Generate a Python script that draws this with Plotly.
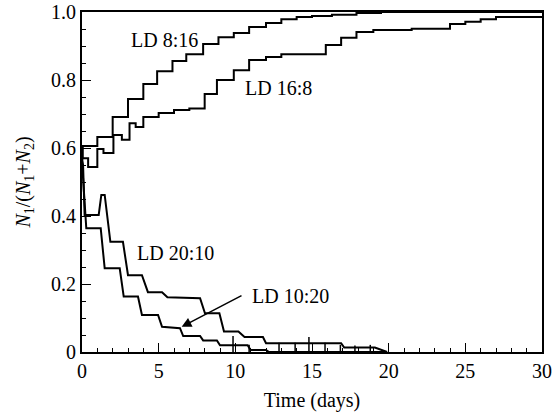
import plotly.graph_objects as go

# ---- data ----
ld816_x = [0, 0.05, 1.0, 2.0, 3.0, 4.0, 4.9, 5.9, 6.8, 7.9, 8.9, 9.9, 10.9, 12.0, 13.0, 14.0, 15.0, 16.3, 17.9, 19.5, 30]
ld816_y = [0.57, 0.606, 0.632, 0.691, 0.744, 0.788, 0.826, 0.856, 0.876, 0.906, 0.926, 0.938, 0.956, 0.968, 0.979, 0.985, 0.988, 0.992, 0.997, 1.0, 1.0]

ld168_x = [0, 0.4, 1.0, 1.4, 2.05, 2.6, 3.1, 3.5, 4.0, 5.0, 6.0, 7.0, 8.0, 8.8, 9.9, 10.9, 12.0, 13.0, 15.9, 16.9, 17.9, 19.0, 21.5, 24.0, 25.0, 26.0, 27.0, 30]
ld168_y = [0.57, 0.544, 0.597, 0.585, 0.638, 0.624, 0.673, 0.662, 0.691, 0.703, 0.712, 0.716, 0.759, 0.80, 0.829, 0.859, 0.868, 0.876, 0.903, 0.924, 0.941, 0.947, 0.951, 0.965, 0.971, 0.979, 0.985, 0.985]

ld2010_x = [0, 0.07, 0.17, 1.09, 1.26, 1.48, 1.85, 2.67, 3.0, 3.91, 4.3, 5.22, 5.57, 7.7, 8.02, 8.96, 9.26, 10.2, 10.6, 11.8, 12.0, 16.9, 17.1, 19.1, 19.9]
ld2010_y = [0.57, 0.55, 0.403, 0.403, 0.462, 0.462, 0.324, 0.324, 0.226, 0.226, 0.176, 0.176, 0.161, 0.158, 0.114, 0.114, 0.06, 0.06, 0.044, 0.044, 0.026, 0.026, 0.013, 0.013, 0.0]

ld1020_x = [0, 0.05, 0.28, 1.22, 1.48, 2.46, 2.72, 3.65, 3.91, 4.96, 5.22, 6.39, 6.6, 7.7, 7.9, 8.8, 9.0, 10.8, 11.0, 12.0, 12.2, 19.7]
ld1020_y = [0.56, 0.53, 0.364, 0.364, 0.246, 0.246, 0.163, 0.163, 0.109, 0.109, 0.074, 0.07, 0.047, 0.047, 0.034, 0.034, 0.02, 0.02, 0.006, 0.006, 0.0, 0.0]

spike_days = [9.85, 10.9, 12.85, 13.9, 14.8, 15.85, 16.85, 17.8, 18.8]
spike_tops = [0.047, 0.021, 0.027, 0.027, 0.044, 0.027, 0.021, 0.019, 0.021]

y_ticks = [0, 0.2, 0.4, 0.6, 0.8, 1.0]
y_ticktext = ["0", "0.2", "0.4", "0.6", "0.8", "1.0"]
x_ticks = [0, 5, 10, 15, 20, 25, 30]

labels = [
    ("LD 8:16", 5.41, 0.918),
    ("LD 16:8", 12.8, 0.776),
    ("LD 20:10", 6.13, 0.291),
]
arrow_label = ("LD 10:20", 13.6, 0.165)
arrow_tail = (10.5, 0.168)
arrow_tip = (6.5, 0.074)

# ---- figure ----
font_family = "Liberation Serif, Times New Roman, serif"
line_style = dict(color="black", width=2)

fig = go.Figure()
fig.add_trace(go.Scatter(x=ld816_x, y=ld816_y, mode="lines", line=dict(shape="hv", **line_style), name="LD 8:16"))
fig.add_trace(go.Scatter(x=ld168_x, y=ld168_y, mode="lines", line=dict(shape="hv", **line_style), name="LD 16:8"))
fig.add_trace(go.Scatter(x=ld2010_x, y=ld2010_y, mode="lines", line=line_style, name="LD 20:10"))
fig.add_trace(go.Scatter(x=ld1020_x, y=ld1020_y, mode="lines", line=line_style, name="LD 10:20"))

sx, sy = [], []
for d, t in zip(spike_days, spike_tops):
    sx += [d, d, None]
    sy += [0, t, None]
fig.add_trace(go.Scatter(x=sx, y=sy, mode="lines", line=dict(color="black", width=1.5), name="daily"))

for text, x, y in labels:
    fig.add_annotation(x=x, y=y, text=text, showarrow=False, font=dict(size=20, family=font_family, color="black"))

fig.add_annotation(x=arrow_label[1], y=arrow_label[2], text=arrow_label[0], showarrow=False,
                   font=dict(size=20, family=font_family, color="black"))
fig.add_annotation(x=arrow_tip[0], y=arrow_tip[1], ax=arrow_tail[0], ay=arrow_tail[1],
                   axref="x", ayref="y", xref="x", yref="y", text="", showarrow=True,
                   arrowhead=2, arrowsize=1.3, arrowwidth=1.5, arrowcolor="black")

axis_common = dict(showgrid=False, zeroline=False, showline=True, linecolor="black", linewidth=2,
                   mirror=True, ticks="inside", tickcolor="black", tickwidth=1.2, ticklen=9,
                   automargin=False,
                   tickfont=dict(size=20, family=font_family, color="black"))

fig.update_xaxes(range=[0, 30], tickvals=x_ticks,
                 minor=dict(dtick=1, ticks="inside", ticklen=4, tickcolor="black", tickwidth=1.2),
                 title=dict(text="Time (days)", font=dict(size=20, family=font_family, color="black")),
                 **axis_common)
fig.update_yaxes(range=[0, 1.0], tickvals=y_ticks, ticktext=y_ticktext,
                 minor=dict(dtick=0.05, ticks="inside", ticklen=4, tickcolor="black", tickwidth=1.2),
                 title=dict(text="<i>N</i><sub>1</sub>/(<i>N</i><sub>1</sub>+<i>N</i><sub>2</sub>)",
                            font=dict(size=20, family=font_family, color="black")),
                 **axis_common)

fig.update_layout(width=554, height=412, margin=dict(l=82, r=12, t=12, b=60),
                  plot_bgcolor="white", paper_bgcolor="white", showlegend=False)

fig.write_html("out.html", config={"displayModeBar": False},
               post_script="document.body.style.margin='0';")
